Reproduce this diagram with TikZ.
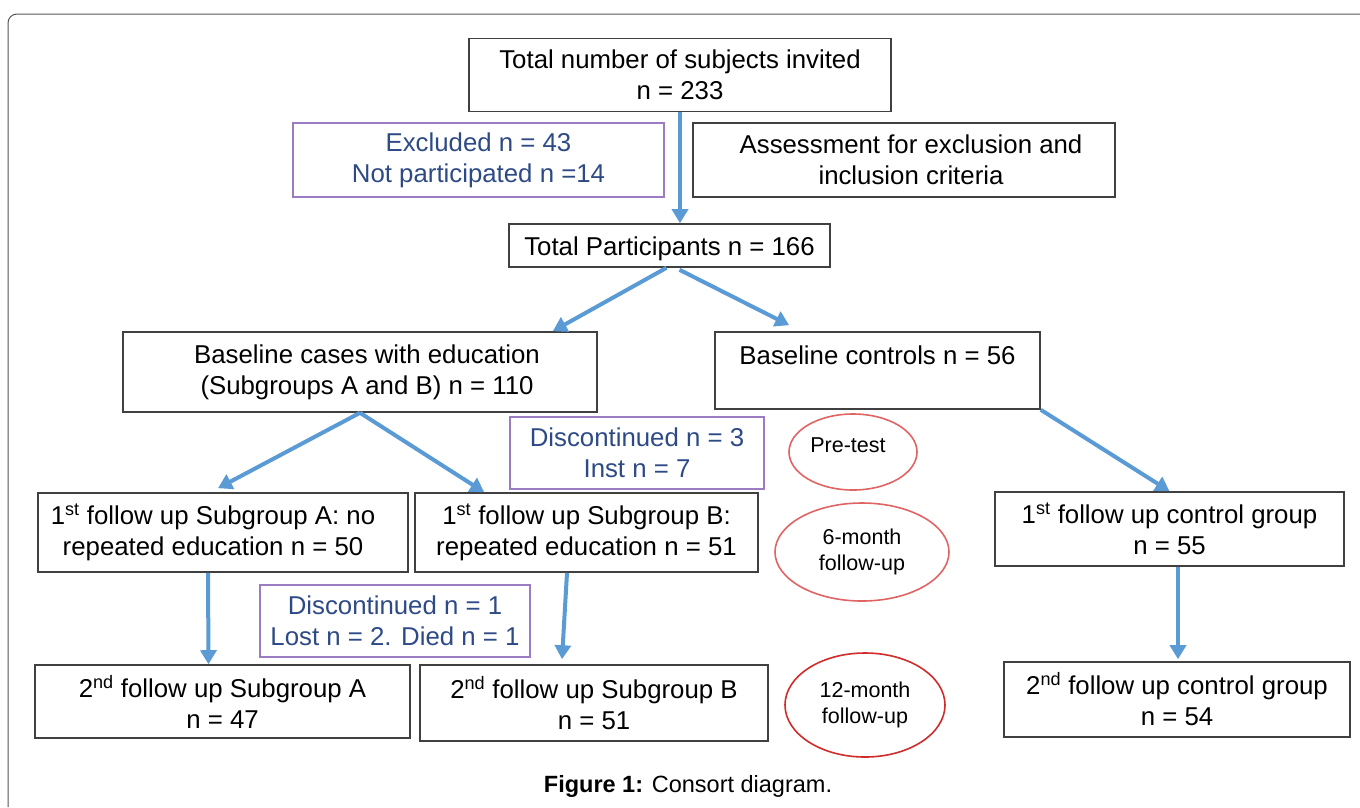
\documentclass[tikz,border=0pt]{standalone}
\usepackage{fontspec}
\setmainfont{Liberation Sans}
\usepackage{xcolor}
\usetikzlibrary{arrows.meta, shapes.geometric, calc, positioning}
\definecolor{flowblue}{HTML}{5B9BD5}
\definecolor{dropline}{HTML}{9B7BC2}
\definecolor{droptext}{HTML}{2E4A86}
\definecolor{phasered}{HTML}{E06464}
\definecolor{phasedark}{HTML}{D12B2B}
\definecolor{framegray}{HTML}{555555}

\begin{document}
\begin{tikzpicture}[x=1pt, y=-1pt,
  box/.style={draw=black!75, line width=1.6pt, align=center, inner sep=0pt,
    font=\fontsize{25.8}{31}\selectfont, execute at begin node={\rule{0pt}{25pt}}},
  dropbox/.style={box, draw=dropline, text=droptext},
  phase/.style={ellipse, draw=phasered, line width=1.6pt, align=center, inner sep=0pt,
    font=\fontsize{21.5}{26}\selectfont},
  flow/.style={draw=flowblue, line width=4pt, -{Triangle[length=14pt, width=16pt]}}]
  \useasboundingbox (0,0) rectangle (1360,807);

  % page frame
  \draw[framegray, line width=1pt, rounded corners=9pt] (8,807) -- (8,14) -- (1360,14);

  % enrolment
  \node[box, minimum width=422, minimum height=73] (invited) at (680,75)
    {Total number of subjects invited\\n = 233};
  \node[dropbox, minimum width=371, minimum height=74] (excluded) at (478.5,160)
    {Excluded n = 43\\Not participated n =14};
  \node[box, minimum width=422, minimum height=74] (assess) at (904,160)
    {\hspace*{14pt}Assessment for exclusion and\\\hspace*{14pt}inclusion criteria};
  \node[box, minimum width=321, minimum height=43] (total) at (669.5,245.5)
    {Total Participants n = 166};

  % baseline
  \node[box, minimum width=474, minimum height=80] (cases) at (360,372)
    {\hspace*{14pt}Baseline cases with education\\\hspace*{14pt}(Subgroups A and B) n = 110};
  \node[box, minimum width=325, minimum height=77] (controls) at (877.5,370.5)
    {Baseline controls n = 56\\ ~};
  \node[dropbox, minimum width=254, minimum height=72] (drop1) at (637,453)
    {Discontinued n = 3\\Inst n = 7};
  \node[phase, minimum width=128, minimum height=76] (pretest) at (853,452)
    {\raisebox{14pt}{Pre-test}\hspace*{10pt}};

  % first follow up
  \node[box, minimum width=370, minimum height=79] (fuA) at (223,532.5)
    {1\textsuperscript{st} follow up Subgroup A: no\hspace*{20pt}\\repeated education n = 50\hspace*{20pt}};
  \node[box, minimum width=343, minimum height=79] (fuB) at (586.5,532.5)
    {1\textsuperscript{st} follow up Subgroup B:\\repeated education n = 51};
  \node[phase, minimum width=174, minimum height=98] (sixmonth) at (862,552)
    {6-month\\follow-up};
  \node[box, minimum width=349, minimum height=74] (fuC) at (1169.5,529)
    {1\textsuperscript{st} follow up control group\\n = 55};
  \node[dropbox, minimum width=270, minimum height=72] (drop2) at (395,621)
    {Discontinued n = 1\\Lost n = 2. Died n = 1};

  % second follow up
  \node[box, minimum width=375, minimum height=73] (sndA) at (222.5,701.5)
    {2\textsuperscript{nd} follow up Subgroup A\\n = 47};
  \node[box, minimum width=348, minimum height=76] (sndB) at (594,703)
    {2\textsuperscript{nd} follow up Subgroup B\\n = 51};
  \node[phase, draw=phasedark, minimum width=160, minimum height=104] (twelvemonth) at (865,705)
    {12-month\\follow-up};
  \node[box, minimum width=346, minimum height=75] (sndC) at (1177,699.5)
    {2\textsuperscript{nd} follow up control group\\n = 54};

  \node (caption) at (688,786)
    {\fontsize{23.5}{28}\selectfont\textbf{Figure 1:} Consort diagram.};

  % arrows
  \draw[flow] (invited.south) -- (invited.south |- total.north);
  \draw[flow] ($(total.south)+(-3,0)$) -- ($(cases.north east)+(-45,0)$);
  \draw[flow] ($(total.south)+(10,2)$) -- ($(controls.north west)+(75,-6)$);
  \draw[flow] (cases.south) -- ($(fuA.north)+(-5,-4)$);
  \draw[flow] (cases.south) -- ($(fuB.north west)+(70,0)$);
  \draw[flow] (controls.south east) -- (fuC.north);
  \draw[flow] ($(fuA.south)+(-15,0)$) -- ($(sndA.north)+(-14,0)$);
  \draw[flow] ($(fuB.south)+(-19.5,0)$) -- ($(sndB.north)+(-32,-5)$);
  \draw[flow] ($(fuC.south)+(8.5,0)$) -- ($(sndC.north)+(1,-2)$);
\end{tikzpicture}
\end{document}
